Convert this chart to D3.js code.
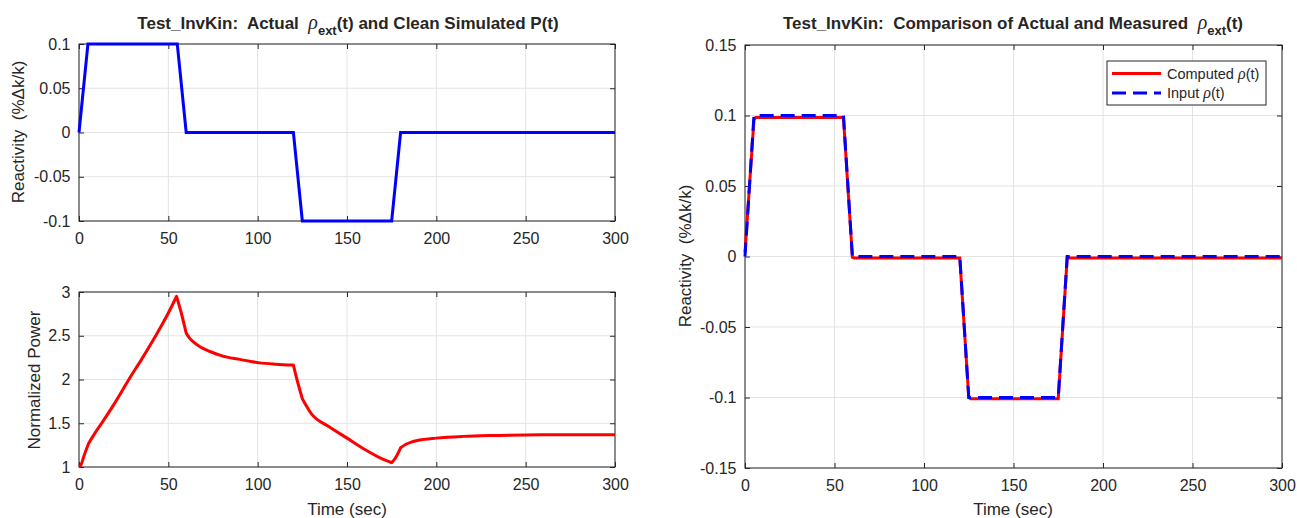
<!DOCTYPE html>
<html>
<head>
<meta charset="utf-8">
<script src="https://cdn.jsdelivr.net/npm/d3@7"></script>
<style>
  body { margin: 0; background: #fff; }
  text { font-family: "Liberation Sans", Arial, sans-serif; fill: #262626; white-space: pre; }
  .grid line { stroke: #e3e3e3; stroke-width: 1; }
  .box { fill: none; stroke: #262626; stroke-width: 1; }
</style>
</head>
<body>
<script>
// reactivity input (t, %dk/k)
var inputT   = [0, 5, 55, 60, 120, 125, 175, 180, 300];
var inputRho = [0, 0.1, 0.1, 0, 0, -0.1, -0.1, 0, 0];

// reactivity recovered by inverse kinetics
var compT   = [0, 5, 6, 55, 60, 61, 120, 125, 126, 175, 180, 181, 300];
var compRho = [0.003, 0.097, 0.0985, 0.0985, -0.0005, -0.001, -0.001, -0.1, -0.1008, -0.1008, -0.001, -0.001, -0.001];

// normalized power, read piece by piece between the reactivity ramps
var powT = [0, 1, 3, 5.4,   9, 13, 20, 27.9, 35, 43.5, 50, 54.6,   57, 60,
            62, 64, 67.7, 73.3, 80, 90, 101, 110, 120,   122, 125,
            130, 140, 150, 160, 170, 175,   177, 180,
            183, 186, 190, 200, 215, 230, 250, 300];
var powP = [1, 1.02, 1.14, 1.27,   1.39, 1.51, 1.73, 2.0, 2.23, 2.52, 2.76, 2.95,   2.78, 2.53,
            2.47, 2.43, 2.375, 2.32, 2.27, 2.23, 2.19, 2.175, 2.165,   2.0, 1.78,
            1.61, 1.46, 1.33, 1.2, 1.09, 1.05,   1.1, 1.22,
            1.26, 1.285, 1.305, 1.33, 1.35, 1.36, 1.366, 1.37];
var powBreaks = [0, 5.4, 54.6, 60, 120, 125, 175, 180, 300];

var xTicks = [0, 50, 100, 150, 200, 250, 300];
var rhoTicksTop = [-0.1, -0.05, 0, 0.05, 0.1];
var powTicks = [1, 1.5, 2, 2.5, 3];
var rhoTicksRight = [-0.15, -0.1, -0.05, 0, 0.05, 0.1, 0.15];

var W = 1297, H = 518;
var svg = d3.select("body").append("svg").attr("width", W).attr("height", H);

function fmt(v) { return String(+v.toFixed(3)); }

/** draw one MATLAB style axes */
function panel(o) {
    var x = d3.scaleLinear().domain([0, 300]).range([o.left, o.right]);
    var y = d3.scaleLinear().domain(o.ydom).range([o.bottom, o.top]);
    var g = svg.append("g");

    var grid = g.append("g").attr("class", "grid");
    grid.selectAll(".gx").data(xTicks).enter().append("line")
        .attr("x1", x).attr("x2", x).attr("y1", o.top).attr("y2", o.bottom);
    grid.selectAll(".gy").data(o.yticks).enter().append("line")
        .attr("x1", o.left).attr("x2", o.right).attr("y1", y).attr("y2", y);

    var xa = d3.axisBottom(x).tickValues(xTicks).tickSizeInner(-5).tickSizeOuter(0).tickPadding(12).tickFormat(fmt);
    var ya = d3.axisLeft(y).tickValues(o.yticks).tickSizeInner(-5).tickSizeOuter(0).tickPadding(8.5).tickFormat(fmt);
    var xt = d3.axisTop(x).tickValues(xTicks).tickSizeInner(-5).tickSizeOuter(0).tickFormat("");
    var yr = d3.axisRight(y).tickValues(o.yticks).tickSizeInner(-5).tickSizeOuter(0).tickFormat("");

    [[xa, "translate(0," + o.bottom + ")"], [ya, "translate(" + o.left + ",0)"],
     [xt, "translate(0," + o.top + ")"], [yr, "translate(" + o.right + ",0)"]].forEach(function (a) {
        var ag = g.append("g").attr("transform", a[1]).call(a[0]);
        ag.select(".domain").remove();
        ag.selectAll("line").attr("stroke", "#262626");
        ag.selectAll("text").style("font-size", "16px").attr("fill", "#262626")
          .style("font-family", "'Liberation Sans', Arial, sans-serif");
    });

    g.append("rect").attr("class", "box")
        .attr("x", o.left).attr("y", o.top)
        .attr("width", o.right - o.left).attr("height", o.bottom - o.top);

    return { x: x, y: y, g: g };
}

function ylabel(txt, cx, cy) {
    svg.append("text").attr("transform", "translate(" + cx + "," + cy + ") rotate(-90)")
        .attr("text-anchor", "middle").style("font-size", "17px").text(txt);
}

function title(cx, cy, pre, post) {
    var t = svg.append("text").attr("x", cx).attr("y", cy).attr("text-anchor", "middle")
        .style("font-size", "17px").style("font-weight", "bold");
    t.append("tspan").text(pre);
    t.append("tspan").style("font-style", "italic").style("font-weight", "normal")
        .style("font-family", "'Liberation Serif', serif").style("font-size", "20px").text("ρ");
    t.append("tspan").attr("dy", 6).style("font-size", "13px").text("ext");
    t.append("tspan").attr("dy", -6).text(post);
}

function pts(ts, vs) { return ts.map(function (t, i) { return [t, vs[i]]; }); }

// ---- top left: input reactivity
var p1 = panel({ left: 79, right: 615, top: 44, bottom: 221, ydom: [-0.1, 0.1], yticks: rhoTicksTop });
p1.g.append("path").datum(pts(inputT, inputRho))
    .attr("d", d3.line().x(function (d) { return p1.x(d[0]); }).y(function (d) { return p1.y(d[1]); }))
    .attr("fill", "none").attr("stroke", "#0000ff").attr("stroke-width", 3);
ylabel("Reactivity  (%\u0394k/k)", 24, 132);
title(348, 29, "Test_InvKin:  Actual  ", "(t) and Clean Simulated P(t)");

// ---- bottom left: power (smooth inside each piece, sharp corners at the ramps)
var p2 = panel({ left: 79, right: 615, top: 292, bottom: 467, ydom: [1, 3], yticks: powTicks });
var powLine = d3.line().curve(d3.curveMonotoneX)
    .x(function (d) { return p2.x(d[0]); }).y(function (d) { return p2.y(d[1]); });
var powPts = pts(powT, powP);
var dStr = "";
for (var i = 0; i < powBreaks.length - 1; i++) {
    var seg = powPts.filter(function (d) { return d[0] >= powBreaks[i] && d[0] <= powBreaks[i + 1]; });
    var s = powLine(seg);
    dStr += (i === 0 ? s : s.replace(/^M[^LC]*/, "L" + p2.x(seg[0][0]) + "," + p2.y(seg[0][1])));
}
p2.g.append("path").attr("d", dStr)
    .attr("fill", "none").attr("stroke", "#ff0000").attr("stroke-width", 3).attr("stroke-linejoin", "round");
ylabel("Normalized Power", 40, 380);
svg.append("text").attr("x", 347).attr("y", 515).attr("text-anchor", "middle").style("font-size", "17px").text("Time (sec)");

// ---- right: comparison
var p3 = panel({ left: 745, right: 1282, top: 45, bottom: 468, ydom: [-0.15, 0.15], yticks: rhoTicksRight });
var line3 = d3.line().x(function (d) { return p3.x(d[0]); }).y(function (d) { return p3.y(d[1]); });
p3.g.append("path").datum(pts(compT, compRho)).attr("d", line3)
    .attr("fill", "none").attr("stroke", "#ff0000").attr("stroke-width", 3);
p3.g.append("path").datum(pts(inputT, inputRho)).attr("d", line3)
    .attr("fill", "none").attr("stroke", "#0000ff").attr("stroke-width", 3).attr("stroke-dasharray", "14,7");
ylabel("Reactivity  (%\u0394k/k)", 691, 256);
svg.append("text").attr("x", 1013).attr("y", 515).attr("text-anchor", "middle").style("font-size", "17px").text("Time (sec)");
title(1013, 29, "Test_InvKin:  Comparison of Actual and Measured  ", "(t)");

// legend
var lg = svg.append("g").attr("transform", "translate(1107,61)");
lg.append("rect").attr("width", 159).attr("height", 44).attr("fill", "#fff").attr("stroke", "#262626");
var items = [["Computed ", "#ff0000", null], ["Input ", "#0000ff", "14,7"]];
items.forEach(function (it, i) {
    var yy = 12.5 + i * 19.5;
    lg.append("line").attr("x1", 5).attr("x2", 54).attr("y1", yy).attr("y2", yy)
        .attr("stroke", it[1]).attr("stroke-width", 3).attr("stroke-dasharray", it[2]);
    var t = lg.append("text").attr("x", 60).attr("y", yy + 5).style("font-size", "14.5px");
    t.append("tspan").text(it[0]);
    t.append("tspan").style("font-style", "italic").style("font-family", "'Liberation Serif', serif")
        .style("font-size", "16px").text("ρ");
    t.append("tspan").text("(t)");
});
</script>
</body>
</html>
